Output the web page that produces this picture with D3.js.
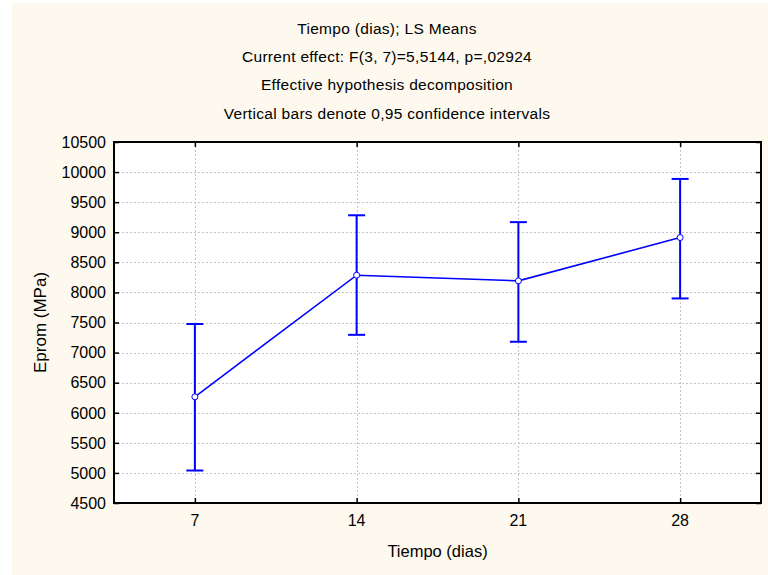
<!DOCTYPE html>
<html>
<head>
<meta charset="utf-8">
<script src="https://cdn.jsdelivr.net/npm/d3@7"></script>
<style>
  html, body { margin: 0; padding: 0; background: #ffffff; }
  svg { display: block; font-family: "Liberation Sans", Arial, sans-serif; }
</style>
</head>
<body>
<svg id="chart" width="768" height="575"></svg>
<script>
// LS means of Eprom by curing time, with 0.95 confidence limits
const categories = [7, 14, 21, 28];
const means = [6265, 8286, 8192, 8912];
const lower = [5040, 7295, 7180, 7900];
const upper = [7475, 9282, 9168, 9886];
const yTicks = [4500, 5000, 5500, 6000, 6500, 7000, 7500, 8000, 8500, 9000, 9500, 10000, 10500];
const titleLines = [
  "Tiempo (dias); LS Means",
  "Current effect: F(3, 7)=5,5144, p=,02924",
  "Effective hypothesis decomposition",
  "Vertical bars denote 0,95 confidence intervals"
];
const xTitle = "Tiempo (dias)";
const yTitle = "Eprom (MPa)";

const svg = d3.select("#chart");
const W = 768, H = 575;
const plot = { left: 114, top: 142, right: 761, bottom: 503 };
const blue = "#0000ff";

// cream page background
svg.append("rect").attr("x", 12).attr("y", 3).attr("width", W - 12).attr("height", H - 3)
  .attr("fill", "#fef9ee");

const x = d3.scaleLinear().domain([3.5, 31.5]).range([plot.left, plot.right]);
const y = d3.scaleLinear().domain([4500, 10500]).range([plot.bottom, plot.top]);

// plot area
svg.append("rect").attr("x", plot.left).attr("y", plot.top)
  .attr("width", plot.right - plot.left).attr("height", plot.bottom - plot.top)
  .attr("fill", "#ffffff");

// dotted grid
const grid = svg.append("g").attr("stroke", "#c4c4c4").attr("stroke-width", 1)
  .attr("stroke-dasharray", "2,2");
grid.selectAll("line.h").data(yTicks.slice(1, -1)).join("line")
  .attr("x1", plot.left).attr("x2", plot.right)
  .attr("y1", d => Math.round(y(d)) + 0.5).attr("y2", d => Math.round(y(d)) + 0.5);
grid.selectAll("line.v").data(categories).join("line")
  .attr("y1", plot.top).attr("y2", plot.bottom)
  .attr("x1", d => Math.round(x(d)) + 0.5).attr("x2", d => Math.round(x(d)) + 0.5);

// axes with inward ticks on all four sides
const tickLen = 5;
const axisLeft = svg.append("g").attr("transform", `translate(${plot.left},0)`)
  .call(d3.axisRight(y).tickValues(yTicks).tickSize(tickLen).tickFormat(""));
const axisRight = svg.append("g").attr("transform", `translate(${plot.right},0)`)
  .call(d3.axisLeft(y).tickValues(yTicks).tickSize(tickLen).tickFormat(""));
const axisBottom = svg.append("g").attr("transform", `translate(0,${plot.bottom})`)
  .call(d3.axisTop(x).tickValues(categories).tickSize(tickLen).tickFormat(""));
const axisTop = svg.append("g").attr("transform", `translate(0,${plot.top})`)
  .call(d3.axisBottom(x).tickValues(categories).tickSize(tickLen).tickFormat(""));
[axisLeft, axisRight, axisBottom, axisTop].forEach(g => {
  g.select(".domain").remove();
  g.selectAll(".tick line").attr("stroke", "#000").attr("stroke-width", 1.5);
});

// frame
svg.append("rect").attr("x", plot.left).attr("y", plot.top)
  .attr("width", plot.right - plot.left).attr("height", plot.bottom - plot.top)
  .attr("fill", "none").attr("stroke", "#000").attr("stroke-width", 2);

// tick labels
svg.append("g").selectAll("text").data(yTicks).join("text")
  .attr("x", plot.left - 8).attr("y", d => y(d)).attr("dy", "0.36em")
  .attr("text-anchor", "end").attr("font-size", 16).attr("fill", "#000")
  .text(d => d);
svg.append("g").selectAll("text").data(categories).join("text")
  .attr("x", d => x(d)).attr("y", 520).attr("dy", "0.36em")
  .attr("text-anchor", "middle").attr("font-size", 16).attr("fill", "#000")
  .text(d => d);

// axis titles
svg.append("text").attr("x", (plot.left + plot.right) / 2).attr("y", 551).attr("dy", "0.36em")
  .attr("text-anchor", "middle").attr("font-size", 16.5).text(xTitle);
svg.append("text").attr("transform", `translate(40,${(plot.top + plot.bottom) / 2}) rotate(-90)`)
  .attr("dy", "0.36em").attr("text-anchor", "middle").attr("font-size", 17).text(yTitle);

// title block
svg.append("g").selectAll("text").data(titleLines).join("text")
  .attr("x", 387).attr("y", (d, i) => 28 + i * 28.4).attr("dy", "0.36em")
  .attr("text-anchor", "middle").attr("font-size", 15.5).attr("letter-spacing", 0.3)
  .text(d => d);

// error bars
const bars = svg.append("g").attr("stroke", blue).attr("stroke-width", 2).attr("fill", "none");
categories.forEach((c, i) => {
  const cx = x(c);
  bars.append("line").attr("x1", cx).attr("x2", cx).attr("y1", y(lower[i])).attr("y2", y(upper[i]));
  bars.append("line").attr("x1", cx - 8.5).attr("x2", cx + 8.5).attr("y1", y(upper[i])).attr("y2", y(upper[i]));
  bars.append("line").attr("x1", cx - 8.5).attr("x2", cx + 8.5).attr("y1", y(lower[i])).attr("y2", y(lower[i]));
});

// means line and markers
const pts = categories.map((c, i) => [c, means[i]]);
svg.append("path").datum(pts)
  .attr("d", d3.line().x(d => x(d[0])).y(d => y(d[1])))
  .attr("fill", "none").attr("stroke", blue).attr("stroke-width", 1.6);
svg.append("g").selectAll("circle").data(pts).join("circle")
  .attr("cx", d => x(d[0])).attr("cy", d => y(d[1])).attr("r", 3)
  .attr("fill", "#fff").attr("stroke", blue).attr("stroke-width", 1);
</script>
</body>
</html>
